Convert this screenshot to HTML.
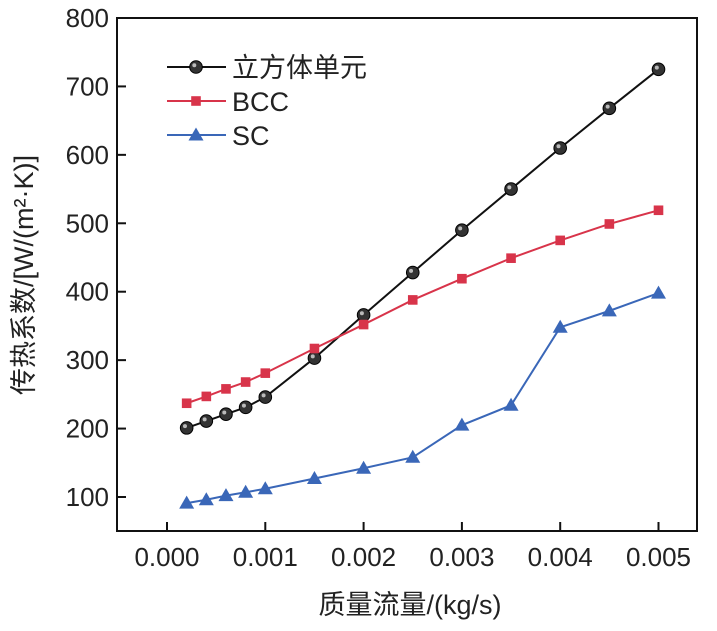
<!DOCTYPE html>
<html><head><meta charset="utf-8"><style>
body{margin:0;background:#fff;}
svg text{font-family:"Liberation Sans","Noto Sans CJK SC",sans-serif;fill:#222;}
</style></head><body>
<svg id="chart" width="717" height="626"></svg>
<script>
const xs=[0.0002,0.0004,0.0006,0.0008,0.001,0.0015,0.002,0.0025,0.003,0.0035,0.004,0.0045,0.005];
const cubeVals=[201,211,221,231,246,303,366,428,490,550,610,668,725];
const bccVals=[237,247,258,268,281,317,352,388,419,449,475,499,519];
const scVals=[91,96,102,107,112,127,142,158,205,234,348,372,398];
const xTicks=[0,0.001,0.002,0.003,0.004,0.005];
const xTickLabels=["0.000","0.001","0.002","0.003","0.004","0.005"];
const yTicks=[100,200,300,400,500,600,700,800];
const NS="http://www.w3.org/2000/svg";
const svg=document.getElementById('chart');
const L=117,R=697,T=18,B=531;
const X=v=>167+v*98300;
const Y=v=>497-(v-100)*0.6843;
function mk(tag,attrs,parent){const e=document.createElementNS(NS,tag);for(const k in attrs)e.setAttribute(k,attrs[k]);(parent||svg).appendChild(e);return e;}
const frame=mk('rect',{x:L,y:T,width:R-L,height:B-T,fill:'none',stroke:'#111','stroke-width':2});


xTicks.forEach((t,i)=>{
 const l=mk('line',{x1:X(t),x2:X(t),y1:B,y2:B-9,stroke:'#111','stroke-width':2});
 
 
 const tx=mk('text',{x:X(t),y:B+35,'text-anchor':'middle','font-size':26});
 tx.textContent=xTickLabels[i];
 
 
});
yTicks.forEach(t=>{
 const l=mk('line',{x1:L,x2:L+9,y1:Y(t),y2:Y(t),stroke:'#111','stroke-width':2});
 
 
 const tx=mk('text',{x:L-8,y:Y(t)+9,'text-anchor':'end','font-size':26});
 tx.textContent=t;
 
 
});
const xt=mk('text',{x:410,y:614,'text-anchor':'middle','font-size':27});
xt.textContent='质量流量/(kg/s)';


const yt=mk('text',{x:0,y:0,'text-anchor':'middle','font-size':27,transform:'translate(33,275) rotate(-90)'});
yt.textContent='传热系数/[W/(m²·K)]';


function marker(type,cx,cy,color,g){
 if(type==='circle'){mk('circle',{cx,cy,r:6.3,fill:'#333',stroke:'#000','stroke-width':1},g);mk('circle',{cx:cx-1.7,cy:cy-1.7,r:2,fill:'#bbb'},g);}
 else if(type==='square')mk('rect',{x:cx-4.8,y:cy-4.8,width:9.6,height:9.6,fill:color},g);
 else mk('polygon',{points:`${cx},${cy-7.5} ${cx-7.5},${cy+5.5} ${cx+7.5},${cy+5.5}`,fill:color},g);
}
const series=[[cubeVals,'#111','circle','立方体单元','series-cube'],[bccVals,'#d8344a','square','BCC','series-bcc'],[scVals,'#3a67b8','tri','SC','series-sc']];
series.forEach((s,si)=>{
 const g=mk('g',{});
 
 
 mk('polyline',{points:xs.map((x,i)=>X(x)+','+Y(s[0][i])).join(' '),fill:'none',stroke:s[1],'stroke-width':2},g);
 xs.forEach((x,i)=>marker(s[2],X(x),Y(s[0][i]),s[1],g));
 const ly=67+si*34;
 const lg=mk('g',{});
 
 
 mk('line',{x1:167,x2:226,y1:ly,y2:ly,stroke:s[1],'stroke-width':2},lg);
 marker(s[2],196,ly,s[1],lg);
 const t=mk('text',{x:232,y:ly+10,'font-size':27},lg);
 t.textContent=s[3];
});
</script>
</body></html>
